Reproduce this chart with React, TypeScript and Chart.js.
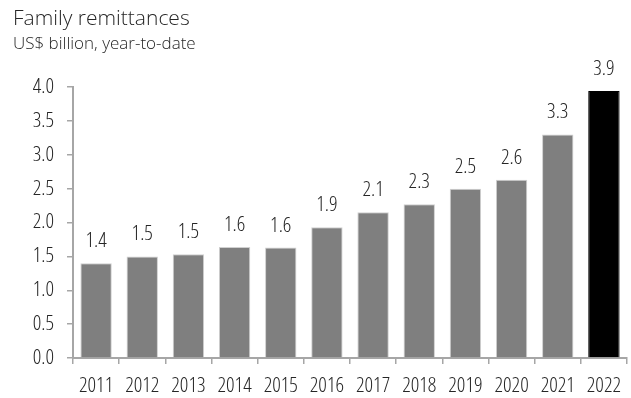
import React, { useEffect, useRef } from "react";
import { Chart, registerables } from "chart.js";

Chart.register(...registerables);

const categories = ["2011", "2012", "2013", "2014", "2015", "2016", "2017", "2018", "2019", "2020", "2021", "2022"];
const values = [1.4, 1.5, 1.53, 1.64, 1.63, 1.93, 2.15, 2.27, 2.5, 2.63, 3.3, 3.94];
const valueLabels = ["1.4", "1.5", "1.5", "1.6", "1.6", "1.9", "2.1", "2.3", "2.5", "2.6", "3.3", "3.9"];
const yTicks = [0, 0.5, 1, 1.5, 2, 2.5, 3, 3.5, 4];
const titleText = "Family remittances";
const subtitleText = "US$ billion, year-to-date";

const FONT = "'Open Sans', 'DejaVu Sans', sans-serif";
const WEIGHT = "300 condensed";
const TEXT = "#262626";

export default function App() {
  const ref = useRef<HTMLCanvasElement | null>(null);

  useEffect(() => {
    document.body.style.margin = "0";
    const canvas = ref.current;
    if (!canvas) return;

    const overlay = {
      id: "overlay",
      afterDatasetsDraw(chart: any) {
        const ctx = chart.ctx;
        ctx.save();
        ctx.fillStyle = TEXT;
        ctx.textAlign = "center";
        ctx.textBaseline = "middle";
        ctx.font = `${WEIGHT} 21px ${FONT}`;
        const meta = chart.getDatasetMeta(0);
        meta.data.forEach((el: any, i: number) => {
          ctx.fillText(valueLabels[i], el.x, el.y - 22);
        });
        ctx.textAlign = "left";
        ctx.textBaseline = "middle";
        ctx.font = `300 21px ${FONT}`;
        ctx.fillText(titleText, 13, 19);
        ctx.font = `300 17px ${FONT}`;
        ctx.fillText(subtitleText, 13, 44);
        ctx.restore();
      },
    };

    const chart = new Chart(canvas, {
      type: "bar",
      data: {
        labels: categories,
        datasets: [
          {
            data: values,
            backgroundColor: values.map((_, i) => (i === values.length - 1 ? "#000000" : "#7f7f7f")),
            borderColor: values.map((_, i) => (i === values.length - 1 ? "#000000" : "#d0d0d0")),
            borderWidth: 1,
            barPercentage: 0.68,
            categoryPercentage: 1,
          },
        ],
      },
      options: {
        animation: false,
        responsive: false,
        maintainAspectRatio: false,
        layout: { padding: { top: 87, right: 4, left: 0, bottom: 0 } },
        plugins: {
          legend: { display: false },
          title: { display: false },
          tooltip: { enabled: false },
        },
        scales: {
          x: {
            grid: {
              display: true,
              drawOnChartArea: false,
              drawTicks: true,
              tickLength: 6,
              color: "#a6a6a6",
              lineWidth: 1.5,
            },
            border: { display: true, color: "#a6a6a6", width: 2 },
            ticks: {
              color: TEXT,
              font: { family: FONT, size: 21, weight: WEIGHT as any },
              padding: 9,
              maxRotation: 0,
              autoSkip: false,
            },
            afterFit(scale: any) {
              scale.height = 40;
            },
          },
          y: {
            min: 0,
            max: 4,
            afterBuildTicks(scale: any) {
              scale.ticks = yTicks.map((v) => ({ value: v }));
            },
            grid: {
              display: true,
              drawOnChartArea: false,
              drawTicks: true,
              tickLength: 6,
              color: "#a6a6a6",
              lineWidth: 1.5,
            },
            border: { display: true, color: "#a6a6a6", width: 2 },
            ticks: {
              color: TEXT,
              font: { family: FONT, size: 21, weight: WEIGHT as any },
              padding: 13,
              callback: (v: any) => Number(v).toFixed(1),
            },
            afterFit(scale: any) {
              scale.width = 73;
            },
          },
        },
      },
      plugins: [overlay],
    });

    return () => chart.destroy();
  }, []);

  return (
    <div style={{ width: 631, height: 398, background: "#ffffff" }}>
      <canvas ref={ref} width={631} height={398} style={{ display: "block" }} />
    </div>
  );
}
